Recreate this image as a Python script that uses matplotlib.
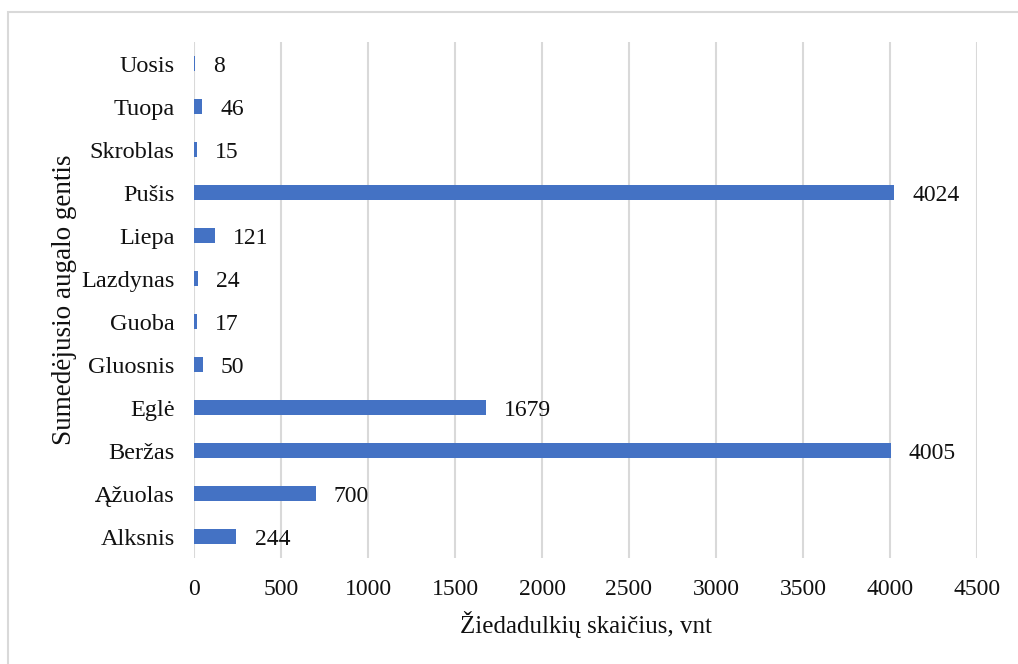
import matplotlib.pyplot as plt
from matplotlib.patches import Rectangle

plt.rcParams['font.family'] = ['Liberation Serif', 'DejaVu Serif']

genera = ['Alksnis', 'Ąžuolas', 'Beržas', 'Eglė', 'Gluosnis', 'Guoba',
          'Lazdynas', 'Liepa', 'Pušis', 'Skroblas', 'Tuopa', 'Uosis']
pollen_counts = [244, 700, 4005, 1679, 50, 17, 24, 121, 4024, 15, 46, 8]
x_ticks = [0, 500, 1000, 1500, 2000, 2500, 3000, 3500, 4000, 4500]

fig = plt.figure(figsize=(10.18, 6.64), dpi=100)
ax = fig.add_axes([0.1906, 0.1596, 0.7691, 0.7771])

y = list(range(len(genera)))
ax.barh(y, pollen_counts, height=0.357, color='#4472C4', linewidth=0,
        zorder=3)

for yi, val in zip(y, pollen_counts):
    ax.annotate(str(val), xy=(val, yi), xytext=(13, 0),
                textcoords='offset points', ha='left', va='center_baseline',
                fontsize=17, color='#111111')

ax.set_xlim(0, 4500)
ax.set_ylim(-0.5, len(genera) - 0.5)
ax.set_xticks(x_ticks)
ax.set_yticks(y)
ax.set_yticklabels(genera)
ax.tick_params(axis='x', length=0, labelsize=17, colors='#111111', pad=15)
ax.tick_params(axis='y', length=0, labelsize=17.5, colors='#111111', pad=14)

ax.grid(axis='x', color='#D9D9D9', linewidth=1.5, zorder=0)
ax.set_axisbelow(True)
for side in ['top', 'right', 'bottom', 'left']:
    ax.spines[side].set_visible(False)

ax.set_xlabel('Žiedadulkių skaičius, vnt', fontsize=18, color='#111111',
              labelpad=8)
ax.set_ylabel('Sumedėjusio augalo gentis', fontsize=19.5, color='#111111',
              labelpad=3)

# chart frame
fig.add_artist(Rectangle((8 / 1018, -0.1), 1.2, (664 - 12) / 664 + 0.1,
                         transform=fig.transFigure, fill=False,
                         edgecolor='#D9D9D9', linewidth=1.5))

fig.savefig('out.png', dpi=100)
